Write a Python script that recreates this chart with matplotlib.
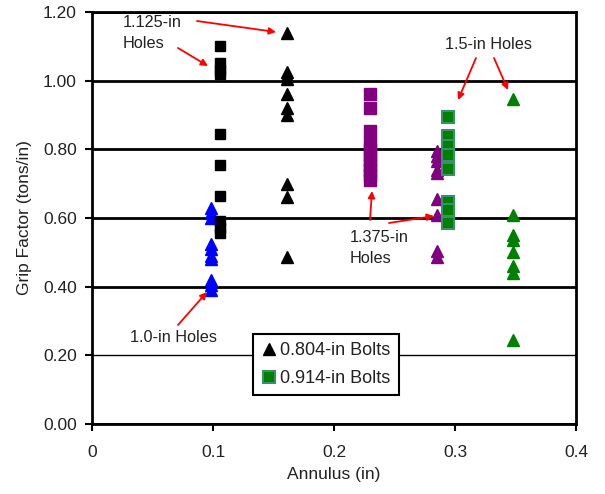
import matplotlib
matplotlib.use("Agg")
import matplotlib.pyplot as plt

plt.rcParams['font.family'] = ['Liberation Sans', 'DejaVu Sans']

# Data
x_blue_tri = 0.098
blue_tri = [0.63, 0.615, 0.60, 0.525, 0.51, 0.49, 0.48, 0.42, 0.405, 0.39]
x_black_sq = 0.106
black_sq = [1.10, 1.05, 1.03, 1.02, 0.845, 0.753, 0.663, 0.59, 0.57, 0.555]
x_black_tri = 0.161
black_tri = [1.14, 1.025, 1.015, 1.005, 0.96, 0.92, 0.90, 0.70, 0.66, 0.485]
x_purple_sq = 0.230
purple_sq = [0.96, 0.92, 0.852, 0.818, 0.80, 0.785, 0.77, 0.755, 0.74, 0.725, 0.71]
x_purple_tri = 0.285
purple_tri = [0.795, 0.78, 0.765, 0.74, 0.73, 0.655, 0.61, 0.505, 0.485]
x_green_sq = 0.294
green_sq = [0.894, 0.838, 0.81, 0.784, 0.742, 0.648, 0.624, 0.585]
x_green_tri = 0.348
green_tri = [0.948, 0.609, 0.551, 0.536, 0.502, 0.459, 0.44, 0.245]

xticks = [0, 0.1, 0.2, 0.3, 0.4]
yticks = [0.0, 0.2, 0.4, 0.6, 0.8, 1.0, 1.2]

fig = plt.figure(figsize=(6.05, 4.94), dpi=100)
ax = fig.add_axes([92/605, 70/494, 484/605, 412/494])

ax.set_xlim(0, 0.4)
ax.set_ylim(0, 1.2)
ax.set_xticks(xticks)
ax.set_xticklabels(['0', '0.1', '0.2', '0.3', '0.4'])
ax.set_yticks(yticks)
ax.set_yticklabels([f'{v:.2f}' for v in yticks])

ax.grid(axis='y', color='black', lw=2)
gl = ax.get_ygridlines()
for v, line in zip(yticks, gl):
    if abs(v - 0.2) < 1e-6:
        line.set_linewidth(1)
ax.set_axisbelow(True)

for s in ax.spines.values():
    s.set_linewidth(2)
    s.set_color('black')
ax.tick_params(direction='out', length=5, width=1.5, labelsize=12.5, colors='black', labelcolor='#222222')
ax.tick_params(axis='y', pad=6)
ax.tick_params(axis='x', pad=10)

ax.plot([x_blue_tri]*len(blue_tri), blue_tri, '^', color='#0000FF', ms=8, ls='none')
ax.plot([x_black_sq]*len(black_sq), black_sq, 's', color='black', ms=7, ls='none')
ax.plot([x_black_tri]*len(black_tri), black_tri, '^', color='black', ms=8, ls='none', label='0.804-in Bolts')
ax.plot([x_purple_sq]*len(purple_sq), purple_sq, 's', color='#800080', ms=8, ls='none')
ax.plot([x_purple_tri]*len(purple_tri), purple_tri, '^', color='#800080', ms=8, ls='none')
ax.plot([x_green_sq]*len(green_sq), green_sq, 's', color='#008000', mec='#3a9068', mew=1.5, ms=8.5, ls='none', label='0.914-in Bolts')
ax.plot([x_green_tri]*len(green_tri), green_tri, '^', color='#008000', ms=8, ls='none')

ax.set_xlabel('Annulus (in)', fontsize=12.5, labelpad=5, color='#222222')
ax.set_ylabel('Grip Factor (tons/in)', fontsize=12.5, labelpad=8, color='#222222')

leg = ax.legend(loc='lower left', bbox_to_anchor=(0.333, 0.07), borderaxespad=0,
                fancybox=False, edgecolor='black', framealpha=1, fontsize=13,
                handlelength=0.8, handletextpad=0.25, borderpad=0.45, labelspacing=0.6,
                numpoints=1)
leg.get_frame().set_linewidth(1.5)
for t in leg.get_texts():
    t.set_color('#222222')

arrow = dict(arrowstyle='-|>', color='red', lw=1.3, mutation_scale=10, shrinkA=0, shrinkB=0)
ann_kw = dict(fontsize=11.7, color='#222222')

def px(xp, yp):
    return ((xp - 92) / 1210.0, (424 - yp) / 343.33)

ax.annotate('', xy=px(208, 66), xytext=px(178, 48), arrowprops=arrow)
ax.annotate('', xy=px(276, 32), xytext=px(197, 21), arrowprops=arrow)
ax.text(*px(123, 33), '1.125-in\nHoles', ha='left', va='center', linespacing=1.45, **ann_kw)

ax.annotate('', xy=px(207, 292), xytext=px(178, 325), arrowprops=arrow)
ax.text(*px(174, 338), '1.0-in Holes', ha='center', va='center', **ann_kw)

ax.annotate('', xy=px(372, 191), xytext=px(370, 220), arrowprops=arrow)
ax.annotate('', xy=px(434, 216), xytext=px(389, 223), arrowprops=arrow)
ax.text(*px(350, 248), '1.375-in\nHoles', ha='left', va='center', linespacing=1.45, **ann_kw)

ax.annotate('', xy=px(458, 100), xytext=px(476, 58), arrowprops=arrow)
ax.annotate('', xy=px(508, 90), xytext=px(494, 58), arrowprops=arrow)
ax.text(*px(489, 45), '1.5-in Holes', ha='center', va='center', **ann_kw)

fig.savefig('out.png', dpi=100)
